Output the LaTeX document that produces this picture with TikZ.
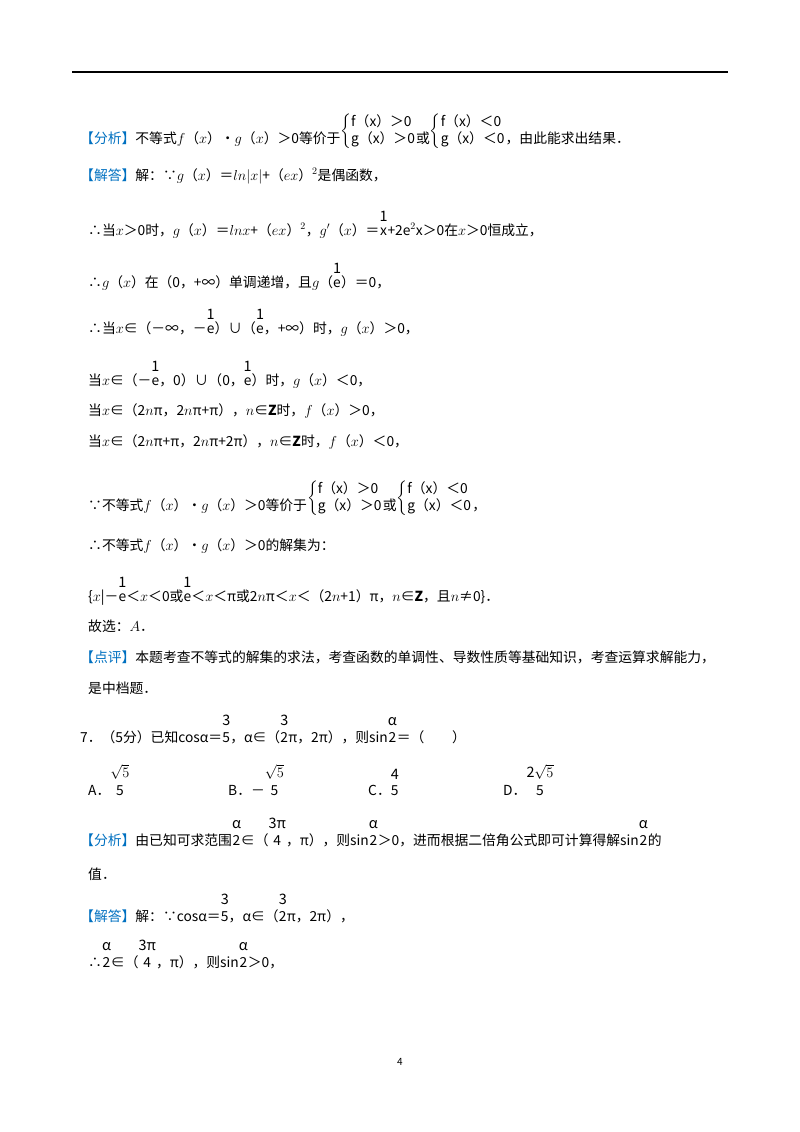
\documentclass[tikz,border=0pt]{standalone}
\usepackage{amsmath}
\usepackage{fontspec}
\setmainfont{Noto Sans CJK SC}
\definecolor{kblue}{RGB}{0,112,192}
\newcommand\fr[2]{\shortstack{{\Large #1}\\[3pt]#2}}
\newcommand\sys[2]{$\left\{\begin{array}{@{}l@{}}\text{#1}\\\text{#2}\end{array}\right.$}
\newcommand\tg[1]{{\color{kblue}【#1】}}
\begin{document}
\begin{tikzpicture}[x=1pt,y=-1pt,every node/.style={anchor=base west,inner sep=0pt,font=\fontsize{13.8}{16}\selectfont}]
\useasboundingbox (0,0) rectangle (800,1132);
\draw[line width=1.5pt] (72,72) -- (728,72);
\node (l1) at (80,143) {\tg{分析}不等式$f$（$x$）•$g$（$x$）＞0等价于\raisebox{8pt}{\sys{f（x）＞0}{g（x）＞0}}或\raisebox{8pt}{\sys{f（x）＜0}{g（x）＜0}}，由此能求出结果．};
\node (l2) at (80,180) {\tg{解答}解：∵$g$（$x$）＝$ln|x|$+（$ex$）$^2$是偶函数，};
\node (l3) at (88,235) {∴当$x$＞0时，$g$（$x$）＝$lnx$+（$ex$）$^2$，$g'$（$x$）＝\fr{1}{x}+2e$^2$x＞0在$x$＞0恒成立，};
\node (l4) at (88,287) {∴$g$（$x$）在（0，+∞）单调递增，且$g$（\fr{1}{e}）＝0，};
\node (l5) at (88,333) {∴当$x$∈（－∞，－\fr{1}{e}）∪（\fr{1}{e}，+∞）时，$g$（$x$）＞0，};
\node (l6) at (88,385) {当$x$∈（－\fr{1}{e}，0）∪（0，\fr{1}{e}）时，$g$（$x$）＜0，};
\node (l7) at (88,415) {当$x$∈（2$n$π，2$n$π+π），$n$∈\textbf{Z}时，$f$（$x$）＞0，};
\node (l8) at (88,446) {当$x$∈（2$n$π+π，2$n$π+2π），$n$∈\textbf{Z}时，$f$（$x$）＜0，};
\node (l9) at (88,510) {∵不等式$f$（$x$）•$g$（$x$）＞0等价于\raisebox{8pt}{\sys{f（x）＞0}{g（x）＞0}}或\raisebox{8pt}{\sys{f（x）＜0}{g（x）＜0}}，};
\node (l10) at (88,550) {∴不等式$f$（$x$）•$g$（$x$）＞0的解集为：};
\node (l11) at (88,601) {\{$x$|－\fr{1}{e}＜$x$＜0或\fr{1}{e}＜$x$＜π或2$n$π＜$x$＜（2$n$+1）π，$n$∈\textbf{Z}，且$n$≠0\}．};
\node (l12) at (88,631) {故选：$A$．};
\node (l13) at (80,662) {\tg{点评}本题考查不等式的解集的求法，考查函数的单调性、导数性质等基础知识，考查运算求解能力，};
\node (l14) at (88,693) {是中档题．};
\node (l15) at (80,742) {7．（5分）已知cosα＝\fr{3}{5}，α∈（\fr{3}{2}π，2π），则sin\fr{α}{2}＝（　　）};
\node (a) at (88,795) {A．\fr{$\sqrt5$}{5}};
\node (b) at (228,795) {B．－\fr{$\sqrt5$}{5}};
\node (c) at (368,795) {C．\fr{4}{5}};
\node (d) at (503,795) {D．\fr{2$\sqrt5$}{5}};
\node (l16) at (80,845) {\tg{分析}由已知可求范围\fr{α}{2}∈（\fr{3π}{4}，π），则sin\fr{α}{2}＞0，进而根据二倍角公式即可计算得解sin\fr{α}{2}的};
\node (l17) at (88,879) {值．};
\node (l18) at (80,921) {\tg{解答}解：∵cosα＝\fr{3}{5}，α∈（\fr{3}{2}π，2π），};
\node (l19) at (88,967) {∴\fr{α}{2}∈（\fr{3π}{4}，π），则sin\fr{α}{2}＞0，};
\node[anchor=base,font=\fontsize{10}{12}\selectfont] (pg) at (400,1065) {4};
\end{tikzpicture}
\end{document}
